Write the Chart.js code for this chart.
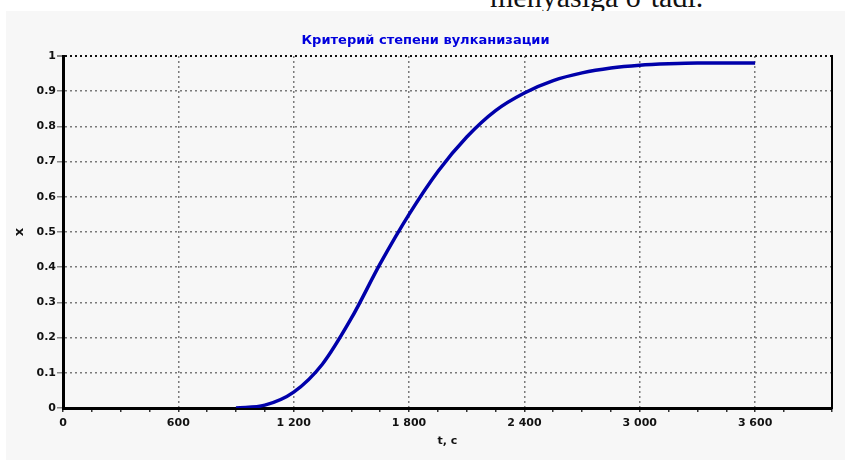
<!DOCTYPE html>
<html>
<head>
<meta charset="utf-8">
<script src="https://cdn.jsdelivr.net/npm/chart.js@4"></script>
<style>
  html, body { margin: 0; padding: 0; background: #fff; overflow: hidden; }
  body { width: 845px; height: 460px; position: relative; }
  #note { position: absolute; left: 490px; top: -18px; font: 30px "Liberation Serif", "Times New Roman", serif; line-height: 30px; color: #111; white-space: nowrap; }
  #panel { position: absolute; left: 6px; top: 11px; width: 839px; height: 449px; background: #f7f7f7; }
</style>
</head>
<body>
<div id="note">menyasiga o‘tadi.</div>
<div id="panel"><canvas id="chart" width="839" height="449"></canvas></div>
<script>
var times = [900, 1050, 1200, 1350, 1500, 1650, 1800, 1950, 2100, 2250, 2400, 2550, 2700, 2850, 3000, 3150, 3300, 3450, 3600];
var degree = [0, 0.008, 0.045, 0.125, 0.255, 0.41, 0.55, 0.672, 0.77, 0.845, 0.895, 0.93, 0.952, 0.966, 0.974, 0.978, 0.98, 0.98, 0.98];
var xTickLabels = ['0', '600', '1 200', '1 800', '2 400', '3 000', '3 600'];
var yTickLabels = ['0', '0.1', '0.2', '0.3', '0.4', '0.5', '0.6', '0.7', '0.8', '0.9', '1'];

var points = times.map(function (t, i) { return { x: t, y: degree[i] }; });
var tickFont = { family: '"DejaVu Sans", Verdana, sans-serif', size: 11, weight: 'bold' };
var titleFont = { family: '"DejaVu Sans", Verdana, sans-serif', size: 13, weight: 'bold' };

var ctx = document.getElementById('chart').getContext('2d');
var myChart = new Chart(ctx, {
  type: 'line',
  data: {
    datasets: [{
      label: 'x',
      data: points,
      borderColor: '#0000aa',
      borderWidth: 3.5,
      pointRadius: 0,
      fill: false,
      cubicInterpolationMode: 'monotone'
    }]
  },
  options: {
    responsive: false,
    animation: false,
    layout: { padding: 0 },
    plugins: {
      legend: { display: false },
      tooltip: { enabled: false },
      title: {
        display: true,
        text: 'Критерий степени вулканизации',
        color: '#0000dd',
        font: titleFont,
        padding: { top: 22, bottom: 7.4 }
      }
    },
    scales: {
      x: {
        type: 'linear',
        min: 0,
        max: 4000,
        afterFit: function (s) { s.height = 52; },
        ticks: {
          stepSize: 150,
          autoSkip: false,
          maxRotation: 0,
          color: '#111',
          font: tickFont,
          padding: 5,
          callback: function (v) {
            return v % 600 === 0 ? xTickLabels[v / 600] : '';
          }
        },
        grid: {
          lineWidth: 1.5,
          color: function (c) {
            var v = c.tick ? c.tick.value : 1;
            return (v % 600 === 0 && v > 0) ? '#7a7a7a' : 'rgba(0,0,0,0)';
          },
          tickColor: '#333',
          tickLength: 4
        },
        border: { display: true, color: '#000', width: 3, dash: [2, 3] },
        title: {
          display: true,
          text: 't, c',
          color: '#111',
          font: tickFont,
          padding: { top: 0, bottom: 12 }
        }
      },
      y: {
        min: 0,
        max: 1,
        afterFit: function (s) { s.width = 57; },
        ticks: {
          stepSize: 0.1,
          color: '#111',
          font: tickFont,
          padding: 1,
          callback: function (v) { return yTickLabels[Math.round(v * 10)]; }
        },
        grid: {
          lineWidth: function (c) { return c.tick && c.tick.value === 1 ? 2 : 1.5; },
          color: function (c) {
            var v = c.tick ? c.tick.value : 0;
            if (v === 0) return 'rgba(0,0,0,0)';
            return v === 1 ? '#111' : '#7a7a7a';
          },
          tickColor: '#888',
          tickLength: 6
        },
        border: { display: true, color: '#000', width: 3, dash: [2, 3] },
        title: {
          display: true,
          text: 'x',
          color: '#111',
          font: { family: '"DejaVu Sans", Verdana, sans-serif', size: 13, weight: 'bold' },
          padding: { top: 6, bottom: 0 }
        }
      },
      y2: {
        position: 'right',
        min: 0,
        max: 1,
        afterFit: function (s) { s.width = 13; },
        ticks: { display: false },
        grid: { drawOnChartArea: false, drawTicks: false },
        border: { display: true, color: '#000', width: 2 }
      }
    }
  }
});
</script>
</body>
</html>
